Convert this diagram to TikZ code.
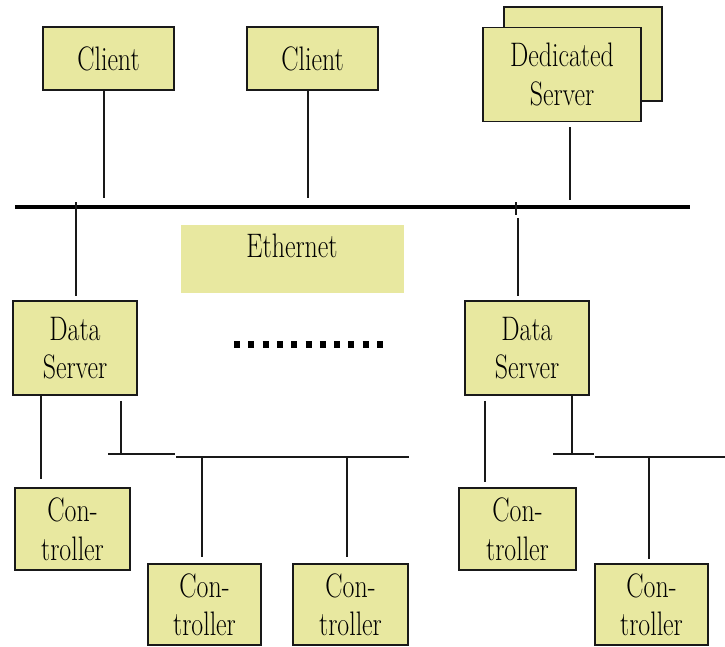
\documentclass[tikz,border=0pt]{standalone}
\usepackage{graphicx}
\usetikzlibrary{calc}
\newcommand{\nar}[1]{\scalebox{0.76}[1]{#1}}
\definecolor{boxfill}{RGB}{232,232,160}
\definecolor{edge}{RGB}{25,25,25}
\begin{document}
\begin{tikzpicture}[x=1pt,y=-1pt,
  box/.style={draw=edge, line width=1.6pt, fill=boxfill, inner sep=0pt, align=center,
              font=\fontsize{34}{38.5}\selectfont},
  wire/.style={draw=edge, line width=1.3pt},
  bus/.style={draw=black, line width=4.5pt}]
\useasboundingbox (0,0) rectangle (725,646);

% top row
\node[box, minimum width=131pt, minimum height=63pt] (c1) at (108.5,58.5) {\nar{Client}};
\node[box, minimum width=131pt, minimum height=63pt] (c2) at (312.5,58.5) {\nar{Client}};
\node[box, minimum width=158pt, minimum height=94pt] (dsback) at (583,54) {};
\node[box, minimum width=158pt, minimum height=94pt] (ded) at (562,74.5) {\nar{Dedicated}\\\nar{Server}};

% Ethernet bus
\coordinate (busL) at (15,207);
\coordinate (busR) at (690,207);
\draw[bus] (busL) -- (busR);

\node[fill=boxfill, minimum width=223pt, minimum height=68pt, inner sep=0pt] (eth) at (292.5,259) {};
\node[anchor=base, inner sep=0pt, font=\fontsize{34}{38.5}\selectfont] (ethlabel) at (292,257) {\nar{Ethernet}};

% taps on the bus
\coordinate (t1) at (104,198);
\coordinate (t2) at (308,198);
\coordinate (t3) at (570,200);
\coordinate (t4) at (76,202);
\coordinate (t5a) at (516,202);
\coordinate (t5b) at (516,215);
\coordinate (t5c) at (518,218);

\draw[wire] (t1 |- c1.south) -- (t1);
\draw[wire] ($(t2 |- c2.south)$) -- (t2);
\draw[wire] ($(t3 |- ded.south)+(0,5)$) -- (t3);

% data servers
\node[box, minimum width=124pt, minimum height=94pt] (ds1) at (75,348) {\nar{Data}\\\nar{Server}};
\node[box, minimum width=124pt, minimum height=94pt] (ds2) at (527,348) {\nar{Data}\\\nar{Server}};

\draw[wire] (t4) -- ($(t4 |- ds1.north)+(0,-4)$);
\draw[wire] (t5a) -- (t5b);
\draw[wire] (t5c) -- ($(t5c |- ds2.north)+(0,-4)$);

% dots
\coordinate (dotsL) at (234,344);
\coordinate (dotsR) at (384,344);
\draw[black, line width=7pt, dash pattern=on 6pt off 8.3pt] (dotsL) -- (dotsR);

% controllers
\node[box, minimum width=115pt, minimum height=82pt] (k1) at (72.5,529) {\nar{Con-}\\\nar{troller}};
\node[box, minimum width=113pt, minimum height=81pt] (k2) at (204.5,604.5) {\nar{Con-}\\\nar{troller}};
\node[box, minimum width=115pt, minimum height=81pt] (k3) at (350.5,604.5) {\nar{Con-}\\\nar{troller}};
\node[box, minimum width=117pt, minimum height=82pt] (k4) at (517.5,529) {\nar{Con-}\\\nar{troller}};
\node[box, minimum width=113pt, minimum height=81pt] (k5) at (651.5,604.5) {\nar{Con-}\\\nar{troller}};

% left field bus
\coordinate (a1) at (41,400);
\coordinate (a2) at (121,454);
\coordinate (h1L) at (108,454);
\coordinate (h1R) at (175,454);
\coordinate (h2L) at (176,457);
\coordinate (h2R) at (409,457);
\coordinate (v1) at (202,457);
\coordinate (v2) at (347,457);

\draw[wire] (a1 |- ds1.south) -- ($(a1 |- k1.north)+(0,-8)$);
\draw[wire] ($(a2 |- ds1.south)+(0,5)$) -- (a2);
\draw[wire] (h1L) -- (h1R);
\draw[wire] (h2L) -- (h2R);
\draw[wire] (v1) -- ($(v1 |- k2.north)+(0,-6)$);
\draw[wire] (v2) -- ($(v2 |- k3.north)+(0,-6)$);

% right field bus
\coordinate (b1) at (485,400);
\coordinate (b2) at (572,454);
\coordinate (h3L) at (553,454);
\coordinate (h3R) at (594,454);
\coordinate (h4L) at (595,457);
\coordinate (h4R) at (725,457);
\coordinate (v3) at (649,457);

\draw[wire] ($(b1 |- ds2.south)+(0,5)$) -- ($(b1 |- k4.north)+(0,-5)$);
\draw[wire] (b2 |- ds2.south) -- (b2);
\draw[wire] (h3L) -- (h3R);
\draw[wire] (h4L) -- (h4R);
\draw[wire] (v3) -- ($(v3 |- k5.north)+(0,-4)$);
\end{tikzpicture}
\end{document}
